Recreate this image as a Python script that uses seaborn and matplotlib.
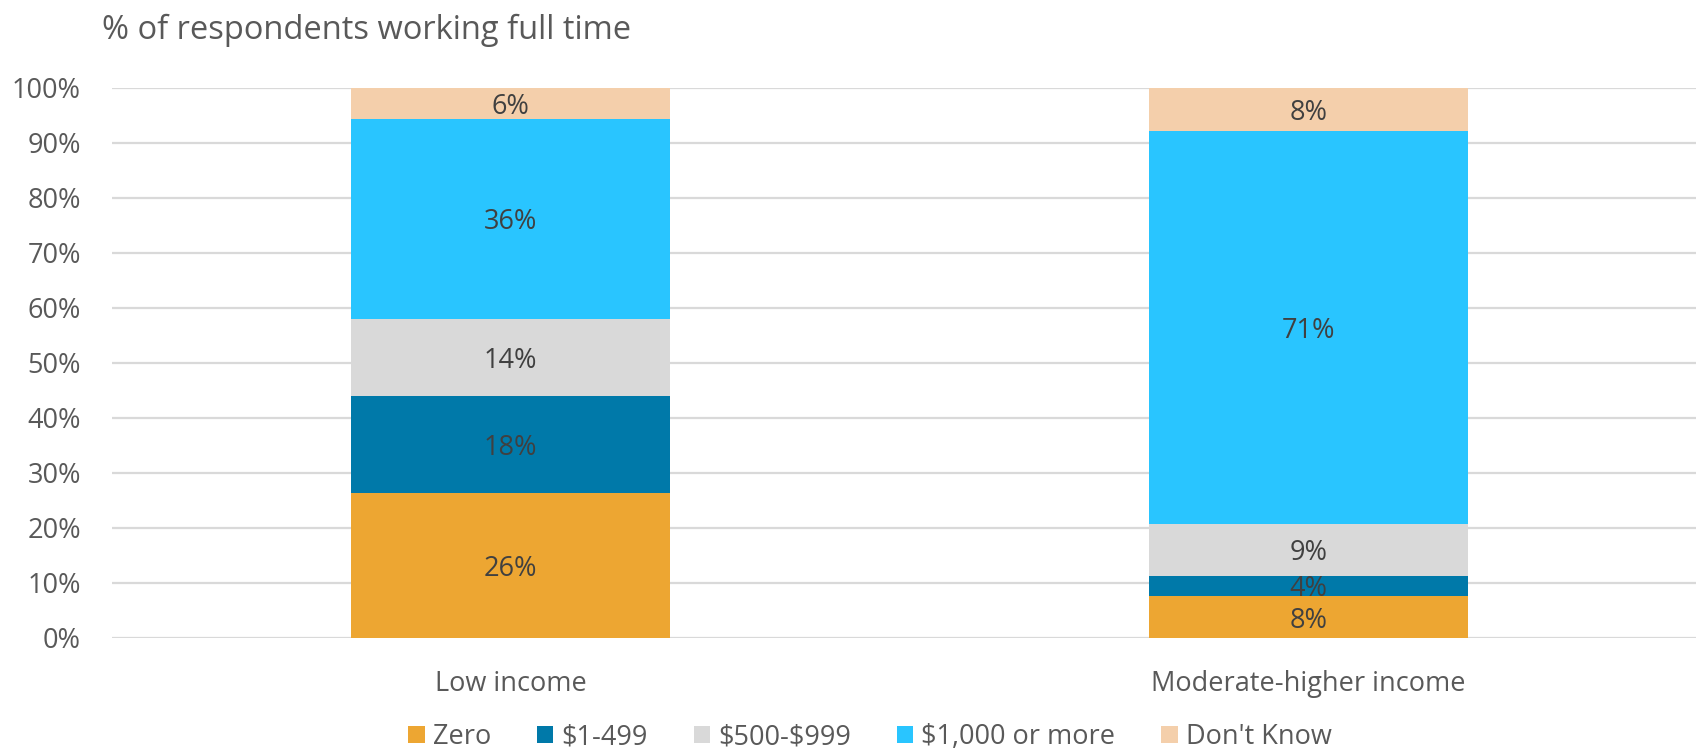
import matplotlib
matplotlib.use("Agg")
import matplotlib.pyplot as plt
from matplotlib.patches import Patch
from matplotlib.ticker import PercentFormatter, MultipleLocator
import numpy as np
import pandas as pd
import seaborn as sns

# data (percent of respondents)
groups = ["Low income", "Moderate-higher income"]
series = ["Zero", "$1-499", "$500-$999", "$1,000 or more", "Don't Know"]
zero = [26.4, 7.6]
d1_499 = [17.6, 3.7]
d500_999 = [14.0, 9.4]
d1000_plus = [36.3, 71.4]
dont_know = [5.7, 7.9]
colors = ["#EDA632", "#0079A9", "#D9D9D9", "#29C5FF", "#F4CFAB"]

sns.set_theme(style="white")
plt.rcParams["font.family"] = ["Open Sans", "DejaVu Sans"]

fig = plt.figure(figsize=(16.96, 7.54), dpi=100)
ax = fig.add_axes([111.5 / 1696, 1 - 638 / 754, 1596 / 1696, (638 - 87.6) / 754])

df = pd.DataFrame({"group": groups, "Zero": zero, "$1-499": d1_499,
                   "$500-$999": d500_999, "$1,000 or more": d1000_plus,
                   "Don't Know": dont_know})

bottom = np.zeros(len(groups))
for name, col in zip(series, colors):
    vals = df[name].to_numpy()
    sns.barplot(data=df, x="group", y=name, order=groups, color=col,
                width=0.4, bottom=bottom, ax=ax, saturation=1, linewidth=0)
    for i, v in enumerate(vals):
        ax.text(i, bottom[i] + v / 2, f"{v:.0f}%", ha="center", va="center_baseline",
                fontsize=19.5, color="#404040")
    bottom = bottom + vals

ax.set_ylim(0, 100)
ax.set_xlim(-0.5, 1.5)
ax.yaxis.set_major_locator(MultipleLocator(10))
ax.yaxis.set_major_formatter(PercentFormatter(100, decimals=0))
ax.yaxis.grid(True, color="#D9D9D9", linewidth=1.6)
ax.set_axisbelow(True)
for s in ax.spines.values():
    s.set_visible(False)
ax.tick_params(axis="both", length=0, labelsize=19.5, labelcolor="#595959")
ax.tick_params(axis="y", pad=22)
ax.tick_params(axis="x", pad=23)
ax.set_xlabel("")
ax.set_ylabel("")

fig.text(102 / 1696, 1 - 30 / 754, "% of respondents working full time",
         ha="left", va="center", fontsize=23.5, color="#595959")

handles = [Patch(facecolor=c, edgecolor="none", label=s.replace("$", r"\$"))
           for s, c in zip(series, colors)]
fig.legend(handles=handles, loc="center", bbox_to_anchor=(870 / 1696, 1 - 737 / 754),
           ncol=5, frameon=False, fontsize=19.5, handlelength=0.6, handleheight=0.6,
           handletextpad=0.3, columnspacing=1.7, labelcolor="#595959",
           borderpad=0.1)

fig.savefig("out.png", dpi=100)
